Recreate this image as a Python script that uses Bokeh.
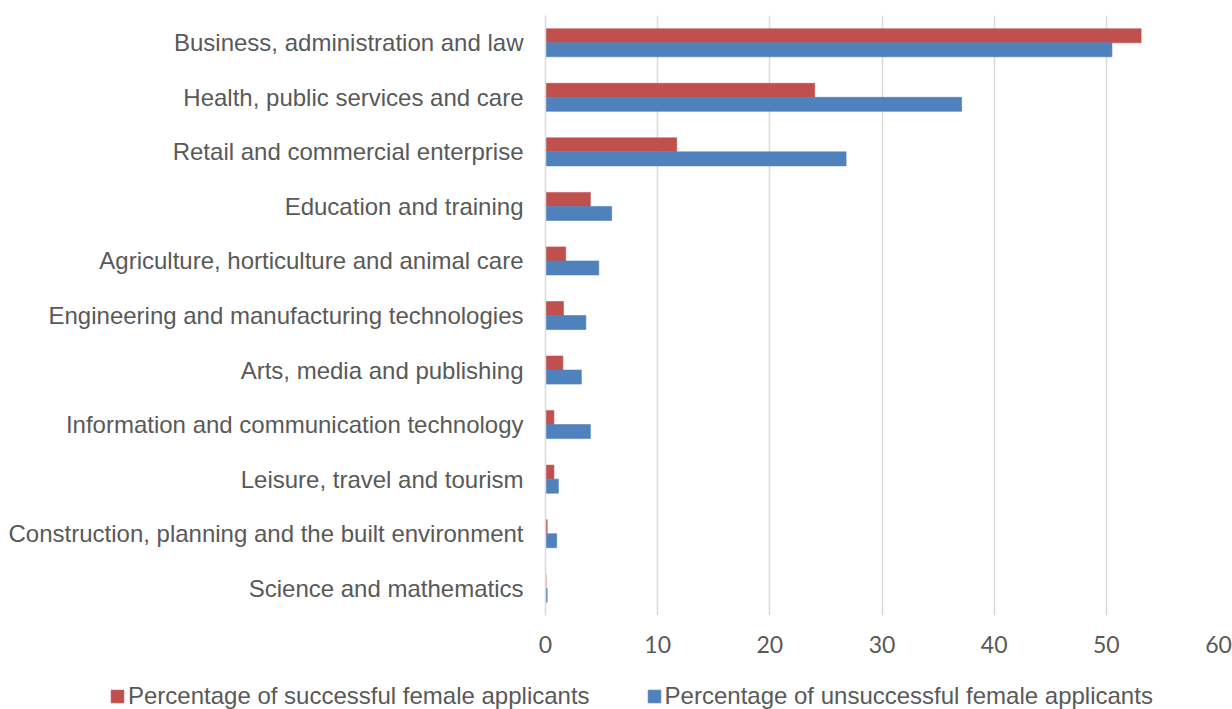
from bokeh.plotting import figure
from bokeh.layouts import column
from bokeh.models import (ColumnDataSource, FactorRange, Range1d, FixedTicker, Legend,
                          LegendItem, Plot)
from bokeh.transform import dodge
from bokeh.embed import file_html
from bokeh.resources import INLINE

categories = [
    "Business, administration and law",
    "Health, public services and care",
    "Retail and commercial enterprise",
    "Education and training",
    "Agriculture, horticulture and animal care",
    "Engineering and manufacturing technologies",
    "Arts, media and publishing",
    "Information and communication technology",
    "Leisure, travel and tourism",
    "Construction, planning and the built environment",
    "Science and mathematics",
]
successful = [53.1, 24.0, 11.7, 4.0, 1.8, 1.6, 1.55, 0.75, 0.75, 0.15, 0.05]
unsuccessful = [50.5, 37.1, 26.8, 5.9, 4.75, 3.6, 3.2, 4.0, 1.15, 1.0, 0.15]
series_names = ["Percentage of successful female applicants",
                "Percentage of unsuccessful female applicants"]
x_ticks = [0, 10, 20, 30, 40, 50, 60]

RED = "#C0504D"
BLUE = "#4F81BD"

src = ColumnDataSource(dict(cat=categories, succ=successful, unsucc=unsuccessful))

W = 1232
H_MAIN = 670
H_LEG = 39

p = figure(width=W, height=H_MAIN, output_backend="svg", toolbar_location=None,
           y_range=FactorRange(factors=list(reversed(categories))),
           x_range=Range1d(0, 60))
p.min_border_left = 545
p.min_border_right = W - 1218
p.min_border_top = 15
p.min_border_bottom = H_MAIN - 615
p.outline_line_color = None

p.hbar(y=dodge("cat", 0.1285, range=p.y_range), right="succ", left=0, height=0.257,
       source=src, fill_color=RED, line_color=RED, line_alpha=0.6, line_width=1)
p.hbar(y=dodge("cat", -0.1285, range=p.y_range), right="unsucc", left=0, height=0.257,
       source=src, fill_color=BLUE, line_color=BLUE, line_alpha=0.6, line_width=1)

# x axis
p.xaxis.ticker = FixedTicker(ticks=x_ticks)
p.xaxis.axis_line_color = None
p.xaxis.major_tick_line_color = None
p.xaxis.minor_tick_line_color = None
p.xaxis.major_tick_out = 0
p.xaxis.major_label_standoff = 20
p.xaxis.major_label_text_font = "Lato"
p.xaxis.major_label_text_font_size = "23px"
p.xaxis.major_label_text_color = "#595959"

# y axis
p.yaxis.axis_line_color = "#d9d9d9"
p.yaxis.axis_line_width = 1.5
p.yaxis.major_tick_line_color = None
p.yaxis.minor_tick_line_color = None
p.yaxis.major_tick_out = 0
p.yaxis.major_label_standoff = 22
p.yaxis.major_label_text_font = "Liberation Sans"
p.yaxis.major_label_text_font_size = "24px"
p.yaxis.major_label_text_color = "#595959"

p.xgrid.grid_line_color = "#d9d9d9"
p.xgrid.grid_line_width = 1.5
p.ygrid.grid_line_color = None

# legend strip below the chart: same series, its x range lies left of all bars,
# so only the legend entries are visible there
pl = figure(width=W, height=H_LEG, output_backend="svg", toolbar_location=None,
            x_range=Range1d(-2, -1), y_range=FactorRange(factors=list(reversed(categories))),
            min_border=0)
pl.outline_line_color = None
pl.axis.visible = False
pl.grid.visible = False
lr = pl.hbar(y="cat", right="succ", left=0, height=0.257, source=src,
             fill_color=RED, line_color=RED, line_alpha=0.6)
lb = pl.hbar(y="cat", right="unsucc", left=0, height=0.257, source=src,
             fill_color=BLUE, line_color=BLUE, line_alpha=0.6)

legend_x = 109
if "frame_align" in Plot.properties():
    p.frame_align = False
    pl.frame_align = False
else:
    legend_x = 109 - 545

legend = Legend(items=[LegendItem(label=series_names[0], renderers=[lr]),
                       LegendItem(label=series_names[1], renderers=[lb])],
                orientation="horizontal", location=(legend_x, -1))
legend.border_line_color = None
legend.background_fill_alpha = 0
legend.padding = 0
legend.margin = 0
legend.spacing = 56
legend.label_standoff = 3
legend.glyph_width = 16
legend.glyph_height = 16
legend.label_text_font = "Liberation Sans"
legend.label_text_font_size = "24px"
legend.label_text_color = "#595959"
pl.add_layout(legend, "center")

layout = column(p, pl, spacing=0)
open("out.html", "w").write(file_html(layout, INLINE))
